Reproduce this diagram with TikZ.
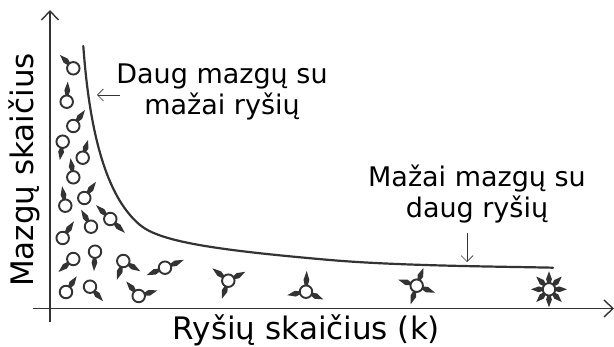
\documentclass[tikz,border=0pt]{standalone}
\usepackage{fontspec}
\setmainfont{DejaVu Sans}
\usetikzlibrary{calc,arrows.meta}
\definecolor{ink}{HTML}{333333}
\newcommand{\spk}[2]{%
  \fill[ink] ($($(#1)!6pt!(#2)$)!1.5pt!90:(#2)$) -- ($($(#1)!0.6!(#2)$)!2.9pt!90:(#2)$) -- ($(#1)!1.06!(#2)$)
     -- ($($(#1)!0.6!(#2)$)!2.9pt!-90:(#2)$) -- ($($(#1)!6pt!(#2)$)!1.5pt!-90:(#2)$) -- cycle;}
\tikzset{
  hub/.style={circle,draw=ink,line width=1.9pt,fill=white,minimum size=12.5pt,inner sep=0pt},
  axisline/.style={draw=ink,line width=1.8pt,-{Straight Barb[length=9pt,width=17pt,line width=1.4pt]}},
  thinarrow/.style={draw=ink,line width=0.7pt,-{Straight Barb[length=6pt,width=12pt,line width=0.7pt]}},
  lab/.style={font=\fontsize{27}{32}\selectfont,text=black,align=center,inner sep=0pt},
  biglab/.style={font=\fontsize{31}{36}\selectfont,text=black,align=center,inner sep=0pt},
  curveline/.style={draw=ink,line width=2.2pt,line cap=round}
}
\begin{document}
\begin{tikzpicture}[x=1pt,y=-1pt]
\useasboundingbox (0,0) rectangle (614,347);
\fill[white] (0,0) rectangle (614,347);
\coordinate (xs) at (33,308.5);
\coordinate (xe) at (614,308.5);
\coordinate (ys) at (50,322);
\coordinate (ye) at (50,10);
\coordinate (la) at (120,95);
\coordinate (lb) at (97,95);
\coordinate (ra) at (467,233);
\coordinate (rb) at (467,262);
\coordinate (c0) at (83.3,46);
\coordinate (c1) at (140,225);
\coordinate (c2) at (330,260);
\coordinate (c3) at (553,267.7);
\draw[axisline] (xs) -- (xe);
\draw[axisline] (ys) -- (ye);
\draw[curveline] (c0) .. controls (89,125) and (104,195) .. (c1)
  .. controls (160,241.7) and (215,250) .. (c2)
  .. controls (400,266) and (500,266.5) .. (c3);
\draw[thinarrow] (la) -- (lb);
\draw[thinarrow] (ra) -- (rb);
\node[lab] (t1) at (222,92) {Daug mazgų su\\[-1pt]mažai ryšių};
\node[lab] (t2) at (477,194) {Mažai mazgų su\\[-1pt]daug ryšių};
\node[biglab,rotate=90] (ty) at (24,170) {Mazgų skaičius};
\node[biglab] (tx) at (306.5,330) {Ryšių skaičius (k)};
\foreach \n/\x/\y in {a/73.3/68.3,b/66.7/101.7,c/73.3/126,d/62.7/141.7,e/82.7/157.7,f/73.3/177.3,g/84.3/198,h/65.3/205.7,i/91/226.7,j/110.3/219,k/62.7/238,l/73.3/259,m/95/251.7,n/123.3/261,o/165/267.7,p/66/292,q/90/286.7,r/138.7/296,s/228.3/280.7,u/306/291.7,v/416.7/285.7,w/549/289.3}
  {\coordinate (\n) at (\x,\y);}
\spk{a}{60.7,55.7}
\spk{b}{67.7,82.7}
\spk{c}{84.3,111}
\spk{d}{60,159}
\spk{e}{87.7,141}
\spk{f}{70.7,159.3}
\spk{g}{95.3,182.7}
\spk{h}{62.3,187.3}
\spk{i}{81.7,210.7}
\spk{j}{97,206}\spk{j}{124,232}
\spk{k}{73.3,222.3}
\spk{l}{59.3,271.3}
\spk{m}{94,270}
\spk{n}{117.3,278.7}\spk{n}{139.3,270.7}
\spk{o}{147.7,274.7}\spk{o}{182.7,260.3}
\spk{p}{76,277.3}
\spk{q}{102.3,300.3}
\spk{r}{127,282.3}\spk{r}{156.3,290.7}
\spk{s}{213.3,269}\spk{s}{244.3,272.3}\spk{s}{222.3,297.7}
\spk{u}{306.7,272}\spk{u}{288.3,295}\spk{u}{322.3,299}
\spk{v}{423,269}\spk{v}{399.3,280}\spk{v}{434,292.3}\spk{v}{411,303.3}
\foreach \a in {0,45,...,315}{\spk{w}{$(w)+(\a:17)$}}
\foreach \n in {a,b,c,d,e,f,g,h,i,j,k,l,m,n,o,p,q,r,s,u,v,w}
  {\node[hub] (h\n) at (\n) {};}
\end{tikzpicture}
\end{document}
